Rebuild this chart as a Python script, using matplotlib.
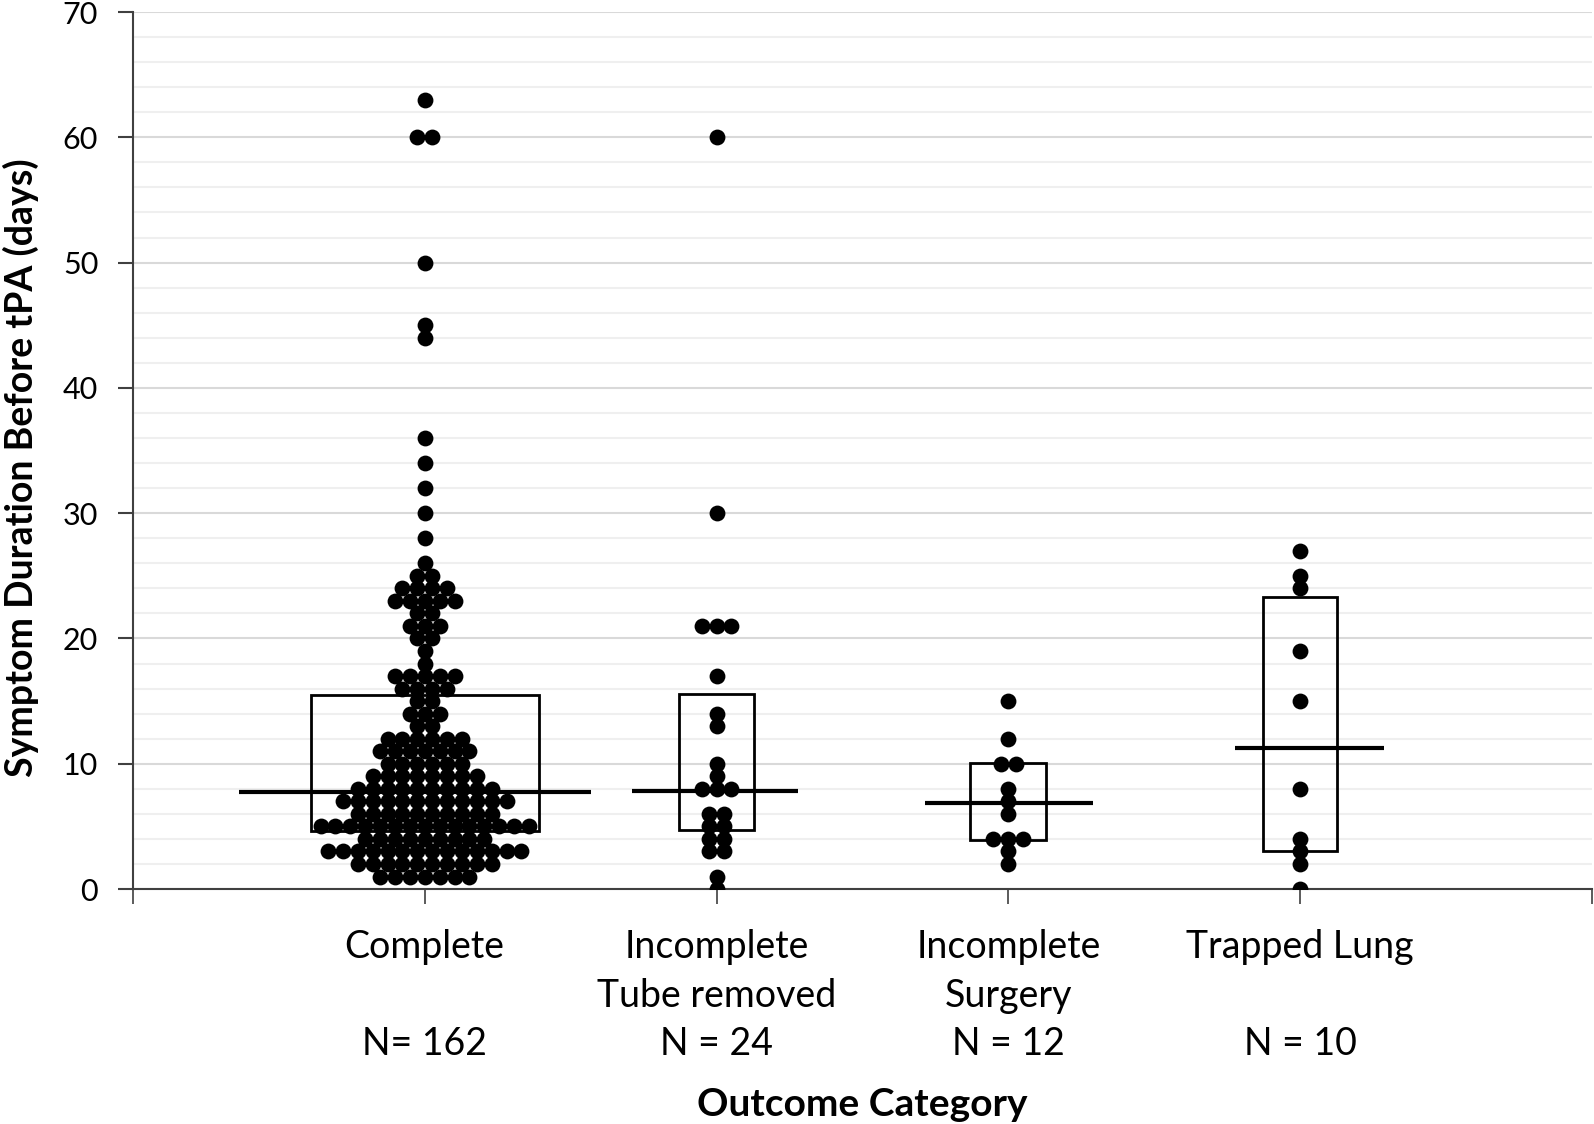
import numpy as np
import matplotlib
matplotlib.use("Agg")
import matplotlib.pyplot as plt
from matplotlib.patches import Rectangle

plt.rcParams['font.family'] = ['Lato', 'DejaVu Sans']

# categorias y etiquetas
categories = ['Complete', 'Incomplete\nTube removed', 'Incomplete\nSurgery', 'Trapped Lung']
n_labels = ['N= 162', 'N = 24', 'N = 12', 'N = 10']

# datos: dias y cuantos puntos hay en cada valor
complete_days = [1, 2, 3, 4, 5, 6, 7, 8, 9, 10, 11, 12, 13, 14, 15, 16, 17, 18, 19, 20,
                 21, 22, 23, 24, 25, 26, 28, 30, 32, 34, 36, 44, 45, 50, 60, 63]
complete_counts = [7, 10, 14, 9, 15, 10, 12, 10, 8, 6, 7, 6, 2, 3, 2, 4, 5, 1, 1, 2,
                   3, 2, 5, 4, 2, 1, 1, 1, 1, 1, 1, 1, 1, 1, 2, 1]

tube_days = [0, 1, 3, 4, 5, 6, 8, 9, 10, 13, 14, 17, 21, 30, 60]
tube_counts = [1, 1, 2, 2, 2, 2, 3, 1, 1, 1, 1, 1, 3, 1, 1]

surgery_days = [2, 3, 4, 6, 7, 8, 10, 12, 15]
surgery_counts = [1, 1, 3, 1, 1, 1, 2, 1, 1]

trapped_days = [0, 2, 3, 4, 8, 15, 19, 24, 25, 27]
trapped_counts = [1, 1, 1, 1, 1, 1, 1, 1, 1, 1]

# cajas (limite inferior / superior) y linea central
box_low = [4.6, 4.7, 3.9, 3.0]
box_high = [15.5, 15.6, 10.1, 23.3]
center_line = [7.75, 7.8, 6.85, 11.3]

groups = [(complete_days, complete_counts), (tube_days, tube_counts),
          (surgery_days, surgery_counts), (trapped_days, trapped_counts)]

# extension de las cajas y lineas (izquierda, derecha) respecto a la categoria
box_half = [0.39, 0.13, 0.13, 0.127]
line_left = [0.638, 0.289, 0.286, 0.223]
line_right = [0.571, 0.279, 0.289, 0.289]

fig = plt.figure(figsize=(15.94, 11.24), dpi=100)
ax = fig.add_axes([0.0834, 0.209, 0.9153, 0.7803])

spacing = 0.051
for i, (days, counts) in enumerate(groups):
    pos = i + 1
    xs, ys = [], []
    for d, c in zip(days, counts):
        offs = (np.arange(c) - (c - 1) / 2) * spacing
        xs.extend(pos + offs)
        ys.extend([d] * c)
    ax.scatter(xs, ys, s=130, color='black', zorder=4, linewidths=0)

    ax.add_patch(Rectangle((pos - box_half[i], box_low[i]), 2 * box_half[i],
                           box_high[i] - box_low[i], fill=False,
                           edgecolor='black', linewidth=2.0, zorder=3))
    ax.hlines(center_line[i], pos - line_left[i], pos + line_right[i],
              color='black', linewidth=3.0, zorder=3)

ax.set_xlim(0, 5)
ax.set_ylim(0, 70)
ax.set_yticks(range(0, 71, 10))
ax.set_yticks(range(0, 71, 2), minor=True)
ax.tick_params(axis='y', which='minor', length=0)
ax.tick_params(axis='y', which='major', length=11, width=1.5, color='#404040',
               labelsize=22, pad=14)

ax.set_xticks(range(6))
ax.set_xticklabels([''] + [c if '\n' in c else c + '\n' for c in categories] + [''])
ax.tick_params(axis='x', length=11, width=1.2, color='#404040', labelsize=27, pad=18)
for lbl in ax.get_xticklabels():
    lbl.set_linespacing(1.45)

for i, n in enumerate(n_labels):
    ax.text(i + 1, -0.1767, n, transform=ax.get_xaxis_transform(), ha='center',
            va='center', fontsize=27)

ax.grid(axis='y', which='major', color='#d9d9d9', linewidth=1.5, zorder=0)
ax.grid(axis='y', which='minor', color='#efefef', linewidth=1.5, zorder=0)
ax.set_axisbelow(True)

for s in ['top', 'right']:
    ax.spines[s].set_visible(False)
ax.spines['left'].set_color('#404040')
ax.spines['bottom'].set_color('#404040')
ax.spines['left'].set_linewidth(1.5)
ax.spines['bottom'].set_linewidth(1.5)

ax.set_ylabel('Symptom Duration Before tPA (days)', fontsize=27, fontweight='bold',
              va='center')
ax.yaxis.set_label_coords(-0.0765, 0.48)
fig.text(0.5412, 0.0175, 'Outcome Category', ha='center', va='center',
         fontsize=28, fontweight='bold')

plt.savefig('out.png', dpi=100)
